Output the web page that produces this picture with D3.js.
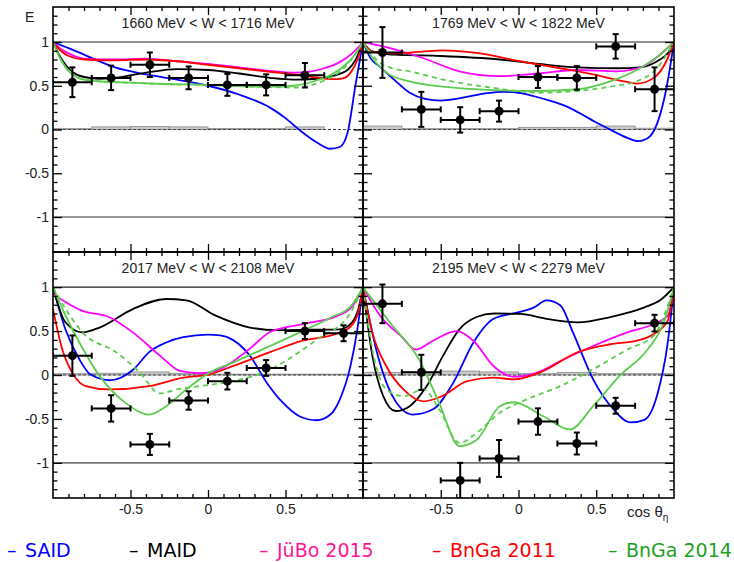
<!DOCTYPE html>
<html>
<head>
<meta charset="utf-8">
<script src="https://cdn.jsdelivr.net/npm/d3@7"></script>
<style>
  body { margin: 0; background: #fff; }
  svg { display: block; }
  .tick text { font-family: "Liberation Sans", Arial, sans-serif; font-size: 14px; fill: #222; }
</style>
</head>
<body>
<svg id="chart" width="734" height="562"></svg>
<script>
// ---- measured beam-target asymmetry E for eta photoproduction, four W bins ----
const cosBins = [-0.875, -0.625, -0.375, -0.125, 0.125, 0.375, 0.625, 0.875];
const binHalfWidth = 0.125;

const titles = [
  "1660 MeV < W < 1716 MeV",
  "1769 MeV < W < 1822 MeV",
  "2017 MeV < W < 2108 MeV",
  "2195 MeV < W < 2279 MeV"
];

const E1660 = [0.54, 0.59, 0.74, 0.59, 0.51, 0.51, 0.62, null];
const dE1660 = [0.17, 0.14, 0.14, 0.13, 0.125, 0.12, 0.14, null];
const sys1660 = [0.01, 0.03, 0.035, 0.03, 0.012, 0.012, 0.03, 0.0];

const E1769 = [0.88, 0.23, 0.11, 0.21, 0.60, 0.59, 0.95, 0.46];
const dE1769 = [0.29, 0.20, 0.145, 0.12, 0.125, 0.135, 0.14, 0.25];
const sys1769 = [0.04, 0.01, 0.01, 0.01, 0.025, 0.025, 0.04, 0.015];

const E2017 = [0.22, -0.38, -0.79, -0.29, -0.07, 0.08, 0.50, 0.475];
const dE2017 = [0.23, 0.15, 0.12, 0.105, 0.095, 0.09, 0.09, 0.09];
const sys2017 = [0.015, 0.02, 0.035, 0.02, 0.01, 0.01, 0.01, 0.01];

const E2195 = [0.81, 0.03, -1.20, -0.95, -0.53, -0.78, -0.35, 0.59];
const dE2195 = [0.22, 0.20, 0.20, 0.21, 0.15, 0.125, 0.09, 0.095];
const sys2195 = [0.03, 0.035, 0.045, 0.035, 0.015, 0.03, 0.015, 0.015];

// ---- model predictions [cos, E] ----
const said1660 = [[-1,1],[-0.9,0.93],[-0.8,0.855],[-0.6,0.71],[-0.4,0.63],[-0.2,0.57],[0,0.5],[0.2,0.4],[0.4,0.25],[0.5,0.13],[0.6,-0.02],[0.7,-0.145],[0.79,-0.22],[0.85,-0.2],[0.9,-0.04],[0.95,0.49],[1,1]];
const maid1660 = [[-1,1],[-0.95,0.82],[-0.9,0.7],[-0.85,0.63],[-0.8,0.6],[-0.7,0.58],[-0.6,0.59],[-0.4,0.65],[-0.2,0.69],[0,0.68],[0.2,0.64],[0.4,0.59],[0.55,0.57],[0.7,0.58],[0.8,0.61],[0.9,0.68],[0.95,0.79],[1,1]];
const jubo1660 = [[-1,1],[-0.95,0.92],[-0.9,0.87],[-0.8,0.81],[-0.6,0.8],[-0.4,0.81],[-0.2,0.78],[0,0.75],[0.2,0.71],[0.4,0.67],[0.55,0.65],[0.65,0.66],[0.75,0.7],[0.85,0.77],[0.93,0.87],[1,1]];
const bnga11_1660 = [[-1,1],[-0.95,0.9],[-0.9,0.84],[-0.8,0.8],[-0.6,0.79],[-0.4,0.8],[-0.2,0.78],[0,0.74],[0.2,0.7],[0.4,0.66],[0.6,0.62],[0.7,0.595],[0.8,0.575],[0.87,0.585],[0.92,0.65],[0.96,0.78],[1,1]];
const bnga14_1660 = [[-1,1],[-0.95,0.8],[-0.9,0.67],[-0.85,0.6],[-0.8,0.57],[-0.7,0.55],[-0.5,0.535],[-0.3,0.52],[0,0.51],[0.2,0.495],[0.4,0.49],[0.55,0.5],[0.7,0.56],[0.8,0.63],[0.9,0.76],[0.95,0.86],[1,1]];
const bnga14d_1660 = [[-1,1],[-0.95,0.8],[-0.9,0.67],[-0.85,0.6],[-0.8,0.57],[-0.7,0.55],[-0.5,0.535],[-0.3,0.52],[0,0.51],[0.2,0.495],[0.4,0.485],[0.55,0.48],[0.65,0.5],[0.75,0.56],[0.85,0.66],[0.92,0.79],[1,1]];

const said1769 = [[-1,1],[-0.95,0.81],[-0.9,0.73],[-0.8,0.57],[-0.7,0.42],[-0.6,0.35],[-0.5,0.33],[-0.4,0.35],[-0.3,0.385],[-0.2,0.415],[-0.1,0.43],[0,0.42],[0.1,0.38],[0.2,0.33],[0.3,0.27],[0.4,0.18],[0.5,0.08],[0.6,-0.01],[0.7,-0.095],[0.77,-0.133],[0.8,-0.125],[0.85,-0.07],[0.9,0.11],[0.95,0.46],[1,1]];
const maid1769 = [[-1,1],[-0.95,0.9],[-0.9,0.88],[-0.8,0.855],[-0.5,0.84],[-0.12,0.8],[0.13,0.75],[0.38,0.71],[0.63,0.7],[0.78,0.71],[0.91,0.8],[0.96,0.87],[1,1]];
const jubo1769 = [[-1,1],[-0.87,0.95],[-0.62,0.82],[-0.38,0.665],[-0.12,0.61],[0.13,0.64],[0.38,0.68],[0.63,0.665],[0.8,0.72],[0.91,0.855],[1,1]];
const bnga11_1769 = [[-1,1],[-0.94,0.89],[-0.81,0.87],[-0.62,0.89],[-0.485,0.905],[-0.27,0.875],[0.01,0.78],[0.27,0.7],[0.48,0.63],[0.68,0.55],[0.76,0.525],[0.87,0.59],[0.956,0.8],[1,1]];
const bnga14_1769 = [[-1,1],[-0.94,0.82],[-0.85,0.65],[-0.7,0.55],[-0.485,0.49],[-0.16,0.45],[0.13,0.44],[0.38,0.46],[0.59,0.55],[0.76,0.68],[0.91,0.855],[1,1]];
const bnga14d_1769 = [[-1,1],[-0.89,0.76],[-0.81,0.7],[-0.7,0.665],[-0.485,0.57],[-0.16,0.475],[0.13,0.42],[0.38,0.44],[0.59,0.49],[0.76,0.55],[0.89,0.7],[1,1]];

const said2017 = [[-1,1],[-0.92,0.52],[-0.83,0.18],[-0.76,0.008],[-0.63,-0.06],[-0.48,0.065],[-0.38,0.26],[-0.27,0.37],[-0.16,0.43],[0,0.46],[0.08,0.45],[0.16,0.4],[0.27,0.22],[0.38,-0.09],[0.48,-0.31],[0.59,-0.47],[0.7,-0.515],[0.79,-0.45],[0.85,-0.28],[0.92,0.11],[0.96,0.48],[1,1]];
const maid2017 = [[-1,1],[-0.92,0.6],[-0.81,0.485],[-0.7,0.54],[-0.485,0.75],[-0.27,0.865],[-0.14,0.85],[0.05,0.675],[0.27,0.54],[0.45,0.51],[0.65,0.515],[0.85,0.52],[0.93,0.6],[0.97,0.75],[1,1]];
const jubo2017 = [[-1,0.92],[-0.81,0.73],[-0.64,0.66],[-0.485,0.485],[-0.31,0.22],[-0.18,0.046],[-0.05,0.02],[0.05,0.046],[0.27,0.3],[0.4,0.49],[0.61,0.58],[0.83,0.67],[0.93,0.78],[1,1]];
const bnga11_2017 = [[-1,0.75],[-0.94,0.29],[-0.87,0.01],[-0.79,-0.126],[-0.64,-0.164],[-0.38,-0.126],[-0.16,-0.03],[0.01,0.008],[0.16,0.1],[0.4,0.26],[0.61,0.39],[0.83,0.47],[0.92,0.55],[0.97,0.72],[1,1]];
const bnga14_2017 = [[-1,1],[-0.92,0.68],[-0.83,0.37],[-0.7,-0.01],[-0.53,-0.32],[-0.38,-0.45],[-0.27,-0.355],[-0.14,-0.164],[0.01,0.027],[0.16,0.14],[0.4,0.33],[0.61,0.5],[0.8,0.66],[0.92,0.78],[1,1]];
const bnga14d_2017 = [[-1,1],[-0.9,0.7],[-0.81,0.485],[-0.59,0.256],[-0.44,0.027],[-0.31,-0.21],[-0.2,-0.164],[-0.05,-0.126],[0.16,-0.07],[0.38,0.046],[0.48,0.14],[0.7,0.4],[0.92,0.71],[1,1]];

const said2195 = [[-1,1],[-0.915,0.29],[-0.81,-0.24],[-0.68,-0.45],[-0.55,-0.39],[-0.42,-0.09],[-0.29,0.37],[-0.16,0.64],[-0.01,0.71],[0.1,0.77],[0.18,0.85],[0.27,0.79],[0.35,0.485],[0.48,-0.05],[0.61,-0.39],[0.72,-0.54],[0.81,-0.51],[0.89,-0.24],[0.96,0.37],[1,1]];
const maid2195 = [[-1,1],[-0.94,0.22],[-0.87,-0.24],[-0.79,-0.41],[-0.7,-0.355],[-0.59,-0.126],[-0.485,0.22],[-0.38,0.52],[-0.27,0.66],[-0.16,0.7],[0.01,0.695],[0.18,0.64],[0.38,0.6],[0.59,0.66],[0.81,0.77],[0.91,0.85],[1,1]];
const jubo2195 = [[-1,1],[-0.89,0.675],[-0.76,0.45],[-0.66,0.29],[-0.55,0.39],[-0.4,0.5],[-0.29,0.39],[-0.16,0.1],[-0.03,-0.02],[0.12,0.027],[0.27,0.16],[0.48,0.33],[0.7,0.485],[0.87,0.58],[0.96,0.675],[1,1]];
const bnga11_2195 = [[-1,1],[-0.94,0.485],[-0.85,0.1],[-0.74,-0.164],[-0.61,-0.3],[-0.49,-0.24],[-0.33,-0.07],[-0.16,-0.03],[-0.03,-0.05],[0.16,0.046],[0.375,0.256],[0.59,0.35],[0.76,0.39],[0.87,0.466],[0.96,0.62],[1,1]];
const bnga14_2195 = [[-1,1],[-0.81,0.56],[-0.64,0.18],[-0.51,-0.32],[-0.38,-0.81],[-0.27,-0.74],[-0.12,-0.355],[-0.03,-0.31],[0.16,-0.47],[0.33,-0.62],[0.48,-0.355],[0.65,-0.01],[0.83,0.29],[0.935,0.6],[1,1]];
const bnga14d_2195 = [[-1,1],[-0.94,0.29],[-0.85,-0.164],[-0.74,-0.24],[-0.61,-0.164],[-0.51,-0.39],[-0.38,-0.775],[-0.27,-0.66],[-0.12,-0.43],[0.05,-0.28],[0.27,-0.126],[0.48,0.065],[0.7,0.29],[0.87,0.45],[1,1]];

const modelNames = ["SAID", "MAID", "JüBo 2015", "BnGa 2011", "BnGa 2014"];
const legendColors = ["#0000ff", "#000000", "#ff1493", "#ff0000", "#1fa01f"];

const yMajor = [-1, -0.5, 0, 0.5, 1];
const xMajor = [-0.5, 0, 0.5];

// ---- layout ----
const svg = d3.select("#chart");
const colX = [[53, 363], [363, 674]];
const rowY = [[7, 252], [252, 498]];
const font = '"Liberation Sans", Arial, Helvetica, sans-serif';

const panels = [
  { title: titles[0], E: E1660, dE: dE1660, sys: sys1660, col: 0, row: 0,
    curves: [said1660, maid1660, jubo1660, bnga11_1660, bnga14d_1660, bnga14_1660] },
  { title: titles[1], E: E1769, dE: dE1769, sys: sys1769, col: 1, row: 0,
    curves: [said1769, maid1769, jubo1769, bnga11_1769, bnga14d_1769, bnga14_1769] },
  { title: titles[2], E: E2017, dE: dE2017, sys: sys2017, col: 0, row: 1,
    curves: [said2017, maid2017, jubo2017, bnga11_2017, bnga14d_2017, bnga14_2017] },
  { title: titles[3], E: E2195, dE: dE2195, sys: sys2195, col: 1, row: 1,
    curves: [said2195, maid2195, jubo2195, bnga11_2195, bnga14d_2195, bnga14_2195] }
];
const curveStyles = [
  { stroke: "#0000ff", dash: null },
  { stroke: "#000000", dash: null },
  { stroke: "#ff00ff", dash: null },
  { stroke: "#ff0000", dash: null },
  { stroke: "#5ccc4e", dash: "5,4" },
  { stroke: "#5ccc4e", dash: null }
];

const minorY = d3.range(-14, 15).map(v => v / 10).filter(v => !yMajor.includes(v) && Math.abs(v) < 1.4);
const minorX = d3.range(-9, 10).map(v => v / 10).filter(v => !xMajor.includes(v));

panels.forEach((p, i) => {
  const [x0, x1] = colX[p.col];
  const [y0, y1] = rowY[p.row];
  const x = d3.scaleLinear().domain([-1, 1]).range([x0, x1]);
  const y = d3.scaleLinear().domain([-1.4, 1.4]).range([y1, y0]);
  const g = svg.append("g");

  const clipId = "clip" + i;
  svg.append("defs").append("clipPath").attr("id", clipId)
    .append("rect").attr("x", x0).attr("y", y0).attr("width", x1 - x0).attr("height", y1 - y0);
  const inner = g.append("g").attr("clip-path", `url(#${clipId})`);

  // systematic uncertainty histogram
  inner.selectAll("rect.sys").data(p.sys).join("rect")
    .attr("class", "sys")
    .attr("x", (d, k) => x(-1 + 0.25 * k))
    .attr("width", (d, k) => x(-1 + 0.25 * (k + 1)) - x(-1 + 0.25 * k))
    .attr("y", d => y(d))
    .attr("height", d => y(0) - y(d))
    .attr("fill", "#c8c8c8").attr("stroke", "#8a8a8a").attr("stroke-width", 0.8);

  inner.append("line").attr("x1", x(-1)).attr("x2", x(1)).attr("y1", y(0)).attr("y2", y(0))
    .attr("stroke", "#444").attr("stroke-width", 1).attr("stroke-dasharray", "3,2");
  inner.append("line").attr("x1", x(-1)).attr("x2", x(1)).attr("y1", y(1)).attr("y2", y(1))
    .attr("stroke", "#222").attr("stroke-width", 1.2);
  inner.append("line").attr("x1", x(-1)).attr("x2", x(1)).attr("y1", y(-1)).attr("y2", y(-1))
    .attr("stroke", "#777").attr("stroke-width", 1.6);

  // model curves
  const line = d3.line().x(d => x(d[0])).y(d => y(d[1])).curve(d3.curveMonotoneX);
  p.curves.forEach((c, k) => {
    inner.append("path").attr("d", line(c)).attr("fill", "none")
      .attr("stroke", curveStyles[k].stroke).attr("stroke-width", 1.8)
      .attr("stroke-dasharray", curveStyles[k].dash);
  });

  // data points with error bars
  const pts = cosBins.map((c, k) => ({ c, e: p.E[k], d: p.dE[k] })).filter(d => d.e !== null);
  const pg = inner.append("g").attr("stroke", "#000").attr("stroke-width", 2);
  pts.forEach(d => {
    pg.append("line").attr("x1", x(d.c - binHalfWidth)).attr("x2", x(d.c + binHalfWidth))
      .attr("y1", y(d.e)).attr("y2", y(d.e));
    pg.append("line").attr("x1", x(d.c)).attr("x2", x(d.c))
      .attr("y1", y(d.e - d.d)).attr("y2", y(d.e + d.d));
    [d.e - d.d, d.e + d.d].forEach(v => pg.append("line")
      .attr("x1", x(d.c) - 3).attr("x2", x(d.c) + 3).attr("y1", y(v)).attr("y2", y(v)));
    [d.c - binHalfWidth, d.c + binHalfWidth].forEach(v => pg.append("line")
      .attr("x1", x(v)).attr("x2", x(v)).attr("y1", y(d.e) - 3).attr("y2", y(d.e) + 3));
    pg.append("circle").attr("cx", x(d.c)).attr("cy", y(d.e)).attr("r", 4.5)
      .attr("fill", "#000").attr("stroke", "none");
  });

  // axes on all four sides, ticks pointing inward
  const fmt = d => String(d);
  const showY = p.col === 0, showX = p.row === 1;
  const addAxis = (axis, tx, ty) => {
    const a = g.append("g").attr("transform", `translate(${tx},${ty})`).call(axis);
    a.select(".domain").remove();
    a.selectAll(".tick line").attr("stroke", "#000").attr("stroke-width", 1.3);
    return a;
  };
  addAxis(d3.axisLeft(y).tickValues(yMajor).tickSize(-9).tickPadding(4)
    .tickFormat(showY ? fmt : () => ""), x0, 0);
  addAxis(d3.axisLeft(y).tickValues(minorY).tickSize(-4.5).tickFormat(() => ""), x0, 0);
  addAxis(d3.axisRight(y).tickValues(yMajor).tickSize(-9).tickFormat(() => ""), x1, 0);
  addAxis(d3.axisRight(y).tickValues(minorY).tickSize(-4.5).tickFormat(() => ""), x1, 0);
  addAxis(d3.axisBottom(x).tickValues(xMajor).tickSize(-8).tickPadding(6)
    .tickFormat(showX ? fmt : () => ""), 0, y1);
  addAxis(d3.axisBottom(x).tickValues(minorX).tickSize(-4).tickFormat(() => ""), 0, y1);
  addAxis(d3.axisTop(x).tickValues(xMajor).tickSize(-8).tickFormat(() => ""), 0, y0);
  addAxis(d3.axisTop(x).tickValues(minorX).tickSize(-4).tickFormat(() => ""), 0, y0);

  g.append("rect").attr("x", x0).attr("y", y0).attr("width", x1 - x0).attr("height", y1 - y0)
    .attr("fill", "none").attr("stroke", "#000").attr("stroke-width", 1.6);

  g.append("text").attr("x", x(0)).attr("y", y0 + 20.5).attr("text-anchor", "middle")
    .style("font-family", font).style("font-size", "14px").attr("fill", "#222").text(p.title);
});

// axis titles
svg.append("text").attr("x", 25).attr("y", 22).style("font-family", font).style("font-size", "14px")
  .attr("fill", "#222").text("E");
const xt = svg.append("text").attr("x", 627).attr("y", 517).style("font-family", font)
  .style("font-size", "15px").attr("fill", "#222");
xt.append("tspan").text("cos θ");
xt.append("tspan").attr("dy", 4).style("font-size", "10px").text("η");

// legend: a coloured dash followed by the model name
const legendX = [7, 129, 259, 432, 608];
const legend = svg.selectAll("g.legend").data(modelNames).join("g")
  .attr("class", "legend")
  .attr("transform", (d, k) => `translate(${legendX[k]},557)`)
  .style("font-family", '"DejaVu Sans", sans-serif').style("font-size", "19px")
  .attr("fill", (d, k) => legendColors[k]);
legend.append("text").attr("x", 0).text("–");
legend.append("text").attr("x", 18).text(d => d);
</script>
</body>
</html>
